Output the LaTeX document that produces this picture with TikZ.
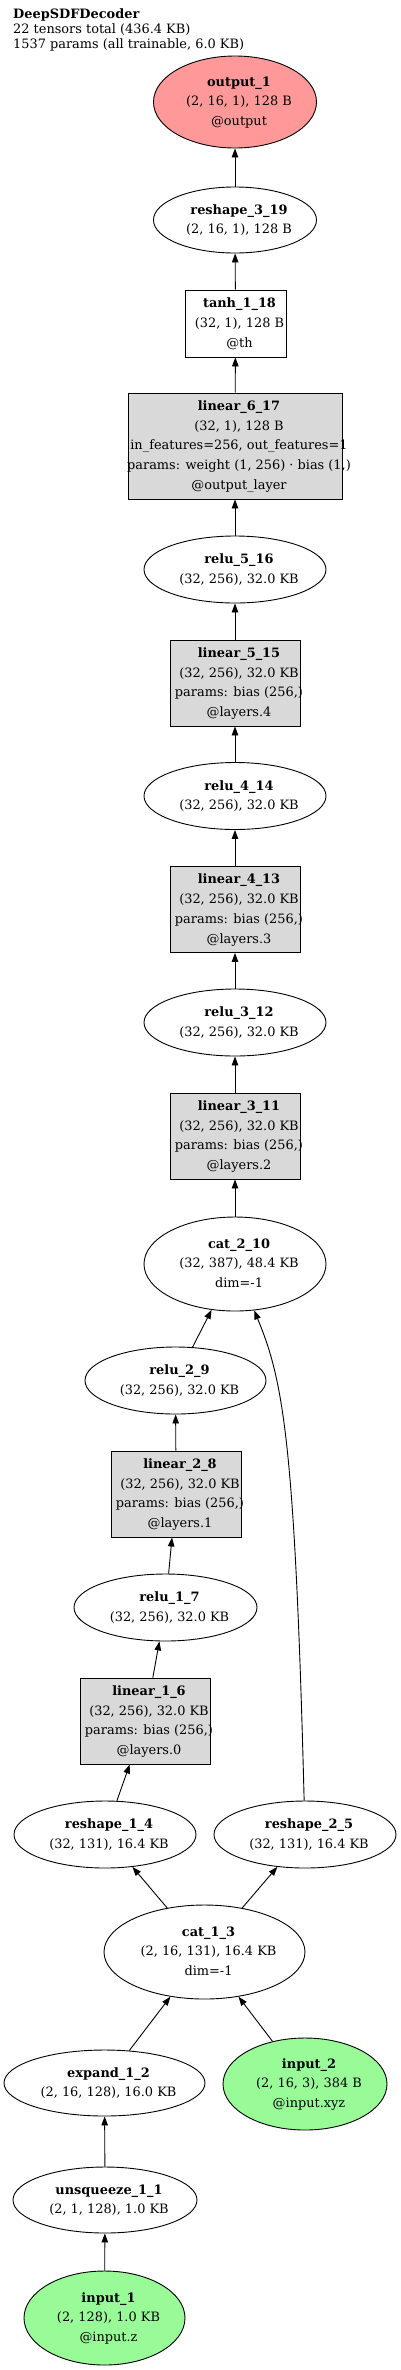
\documentclass[tikz,border=0pt]{standalone}
\usepackage{fontspec}
\setmainfont{DejaVu Serif}
\usetikzlibrary{shapes.geometric,arrows.meta}
\definecolor{outred}{RGB}{255,153,153}
\definecolor{ingreen}{RGB}{152,251,152}
\definecolor{modgray}{RGB}{217,217,217}
\newcommand{\nfont}{\fontsize{12.9}{19.8}\selectfont}
\newcommand{\lbl}[1]{\makebox[0pt]{\hspace{8pt}\begin{tabular}{@{}c@{}}#1\end{tabular}}}
\begin{document}
\begin{tikzpicture}[x=1pt,y=-1pt,
  tensor/.style={ellipse, draw, line width=0.9pt, inner sep=0pt, font=\nfont},
  module/.style={rectangle, draw, line width=0.9pt, inner sep=0pt, font=\nfont},
  flow/.style={-{Triangle[length=9pt,width=6.5pt]}, line width=0.9pt}]
\useasboundingbox[fill=white] (0,0) rectangle (400,2370);
\node[anchor=north west, inner sep=0pt, align=left, font=\fontsize{12.9}{15}\selectfont] (title) at (13,8.4) {\textbf{DeepSDFDecoder}\\22 tensors total (436.4 KB)\\1537 params (all trainable, 6.0 KB)};
\node[tensor, fill=ingreen, minimum width=161pt, minimum height=94pt] (input1) at (104.5,2318) {\lbl{\textbf{input\_1}\\(2, 128), 1.0 KB\\@input.z}};
\node[tensor, minimum width=184pt, minimum height=66pt] (unsqueeze11) at (105,2200) {\lbl{\textbf{unsqueeze\_1\_1}\\(2, 1, 128), 1.0 KB}};
\node[tensor, minimum width=201pt, minimum height=66pt] (expand12) at (104.5,2083) {\lbl{\textbf{expand\_1\_2}\\(2, 16, 128), 16.0 KB}};
\node[tensor, fill=ingreen, minimum width=164pt, minimum height=92pt] (input2) at (305,2084) {\lbl{\textbf{input\_2}\\(2, 16, 3), 384 B\\@input.xyz}};
\node[tensor, minimum width=201pt, minimum height=94pt] (cat13) at (204.5,1952) {\lbl{\textbf{cat\_1\_3}\\(2, 16, 131), 16.4 KB\\dim=-1}};
\draw[flow] (input1) -- (unsqueeze11);
\draw[flow] (unsqueeze11) -- (expand12);
\draw[flow] (expand12) -- (cat13);
\draw[flow] (input2) -- (cat13);
\node[tensor, minimum width=182pt, minimum height=67pt] (reshape14) at (105,1834.5) {\lbl{\textbf{reshape\_1\_4}\\(32, 131), 16.4 KB}};
\node[tensor, minimum width=182pt, minimum height=67pt] (reshape25) at (305,1834.5) {\lbl{\textbf{reshape\_2\_5}\\(32, 131), 16.4 KB}};
\draw[flow] (cat13) -- (reshape14);
\draw[flow] (cat13) -- (reshape25);
\node[module, fill=modgray, minimum width=130pt, minimum height=86pt] (linear16) at (145,1721) {\lbl{\textbf{linear\_1\_6}\\(32, 256), 32.0 KB\\params: bias (256,)\\@layers.0}};
\node[tensor, minimum width=183pt, minimum height=67pt] (relu17) at (165.5,1607.5) {\lbl{\textbf{relu\_1\_7}\\(32, 256), 32.0 KB}};
\node[module, fill=modgray, minimum width=130pt, minimum height=86pt] (linear28) at (176,1494) {\lbl{\textbf{linear\_2\_8}\\(32, 256), 32.0 KB\\params: bias (256,)\\@layers.1}};
\node[tensor, minimum width=181pt, minimum height=67pt] (relu29) at (175.5,1380.5) {\lbl{\textbf{relu\_2\_9}\\(32, 256), 32.0 KB}};
\node[tensor, minimum width=182pt, minimum height=94pt] (cat210) at (235,1264) {\lbl{\textbf{cat\_2\_10}\\(32, 387), 48.4 KB\\dim=-1}};
\draw[flow] (reshape14) -- (linear16);
\draw[flow] (linear16) -- (relu17);
\draw[flow] (relu17) -- (linear28);
\draw[flow] (linear28) -- (relu29);
\draw[flow] (relu29) -- (cat210);
\draw[flow] (reshape25) .. controls (295,1440) and (283,1380) .. (cat210);
\node[module, fill=modgray, minimum width=130pt, minimum height=86pt] (linear311) at (235,1136) {\lbl{\textbf{linear\_3\_11}\\(32, 256), 32.0 KB\\params: bias (256,)\\@layers.2}};
\node[tensor, minimum width=182pt, minimum height=67pt] (relu312) at (235,1022.5) {\lbl{\textbf{relu\_3\_12}\\(32, 256), 32.0 KB}};
\node[module, fill=modgray, minimum width=130pt, minimum height=86pt] (linear413) at (235,909.5) {\lbl{\textbf{linear\_4\_13}\\(32, 256), 32.0 KB\\params: bias (256,)\\@layers.3}};
\node[tensor, minimum width=182pt, minimum height=67pt] (relu414) at (235,796) {\lbl{\textbf{relu\_4\_14}\\(32, 256), 32.0 KB}};
\node[module, fill=modgray, minimum width=130pt, minimum height=86pt] (linear515) at (235,683) {\lbl{\textbf{linear\_5\_15}\\(32, 256), 32.0 KB\\params: bias (256,)\\@layers.4}};
\node[tensor, minimum width=182pt, minimum height=67pt] (relu516) at (235,569.5) {\lbl{\textbf{relu\_5\_16}\\(32, 256), 32.0 KB}};
\draw[flow] (cat210) -- (linear311);
\draw[flow] (linear311) -- (relu312);
\draw[flow] (relu312) -- (linear413);
\draw[flow] (linear413) -- (relu414);
\draw[flow] (relu414) -- (linear515);
\draw[flow] (linear515) -- (relu516);
\node[module, fill=modgray, minimum width=214pt, minimum height=106pt] (linear617) at (235,446) {\lbl{\textbf{linear\_6\_17}\\(32, 1), 128 B\\in\_features=256, out\_features=1\\params: weight (1, 256) · bias (1,)\\@output\_layer}};
\node[module, minimum width=101pt, minimum height=67pt] (tanh118) at (235.5,323.5) {\lbl{\textbf{tanh\_1\_18}\\(32, 1), 128 B\\@th}};
\node[tensor, minimum width=163pt, minimum height=66pt] (reshape319) at (235,220) {\lbl{\textbf{reshape\_3\_19}\\(2, 16, 1), 128 B}};
\node[tensor, fill=outred, minimum width=163pt, minimum height=92pt] (output1) at (235,102) {\lbl{\textbf{output\_1}\\(2, 16, 1), 128 B\\@output}};
\draw[flow] (relu516) -- (linear617);
\draw[flow] (linear617) -- (tanh118);
\draw[flow] (tanh118) -- (reshape319);
\draw[flow] (reshape319) -- (output1);
\end{tikzpicture}
\end{document}
